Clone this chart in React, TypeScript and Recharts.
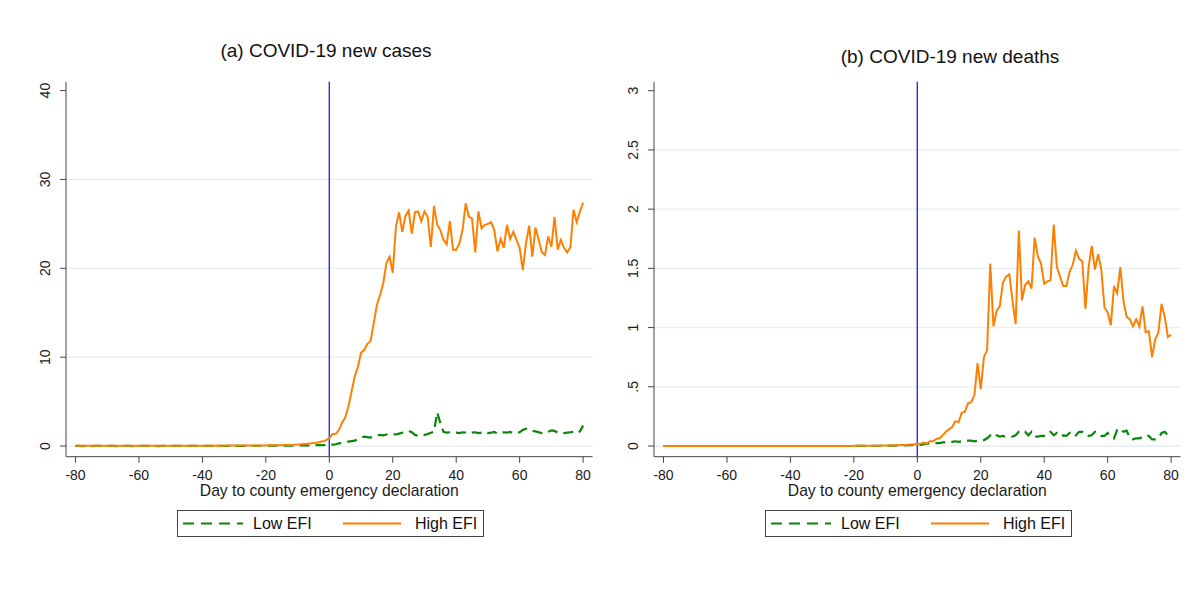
import React from 'react';
import { LineChart, Line, XAxis, YAxis, ReferenceLine } from 'recharts';

// day relative to county emergency declaration
const days = Array.from({ length: 161 }, (_, i) => i - 80);

const casesLow = [
  0.01, 0.01, 0.0, 0.01, 0.01, 0.0, 0.01, 0.01, 0.01, 0.0,
  0.01, 0.01, 0.01, 0.0, 0.01, 0.01, 0.01, 0.01, 0.0, 0.01,
  0.01, 0.01, 0.01, 0.01, 0.01, 0.01, 0.0, 0.01, 0.01, 0.01,
  0.01, 0.01, 0.01, 0.01, 0.02, 0.01, 0.01, 0.02, 0.01, 0.02,
  0.02, 0.01, 0.02, 0.02, 0.02, 0.02, 0.02, 0.02, 0.02, 0.02,
  0.02, 0.02, 0.02, 0.03, 0.02, 0.03, 0.03, 0.03, 0.03, 0.03,
  0.03, 0.03, 0.04, 0.04, 0.04, 0.04, 0.05, 0.05, 0.05, 0.05,
  0.06, 0.06, 0.07, 0.07, 0.08, 0.09, 0.1, 0.1, 0.11, 0.12,
  0.1, 0.15, 0.2, 0.3, 0.35, 0.45, 0.5, 0.55, 0.6, 0.75,
  0.95, 1.05, 1.0, 0.95, 1.05, 1.2, 1.25, 1.2, 1.3, 1.35,
  1.35, 1.3, 1.4, 1.5, 1.6, 1.7, 1.55, 1.25, 1.15, 1.2,
  1.25, 1.35, 1.5, 1.6, 3.8, 2.6, 1.6, 1.5, 1.55, 1.5,
  1.5, 1.45, 1.55, 1.5, 1.45, 1.5, 1.55, 1.45, 1.5, 1.6,
  1.45, 1.5, 1.6, 1.4, 1.45, 1.55, 1.5, 1.6, 1.45, 1.5,
  1.55, 1.8, 1.95, 1.85, 1.7, 1.65, 1.55, 1.45, 1.5, 1.6,
  1.75, 1.7, 1.5, 1.4, 1.45, 1.5, 1.55, 1.6, 1.45, 1.65,
  2.3,
];

const casesHigh = [
  0.02, 0.02, 0.02, 0.03, 0.02, 0.02, 0.03, 0.02, 0.02, 0.03,
  0.02, 0.03, 0.02, 0.02, 0.03, 0.02, 0.03, 0.02, 0.03, 0.03,
  0.03, 0.02, 0.03, 0.03, 0.02, 0.03, 0.03, 0.03, 0.02, 0.03,
  0.03, 0.03, 0.03, 0.04, 0.03, 0.03, 0.04, 0.03, 0.04, 0.04,
  0.04, 0.03, 0.04, 0.04, 0.04, 0.05, 0.04, 0.04, 0.05, 0.05,
  0.05, 0.05, 0.05, 0.06, 0.05, 0.06, 0.06, 0.06, 0.07, 0.07,
  0.07, 0.08, 0.08, 0.09, 0.09, 0.1, 0.11, 0.12, 0.13, 0.15,
  0.17, 0.19, 0.22, 0.25, 0.29, 0.33, 0.38, 0.45, 0.53, 0.66,
  0.88, 1.35, 1.35, 1.8, 2.6, 3.2, 4.4, 6.1, 7.8, 8.9,
  10.5, 10.8, 11.5, 11.8, 13.8, 15.9, 17.0, 18.3, 20.6, 21.3,
  19.5, 24.7, 26.3, 24.1, 25.9, 26.5, 23.9, 26.3, 26.4, 25.3,
  26.4, 25.8, 22.4, 27.0, 24.9, 24.3, 23.2, 22.7, 25.3, 22.1,
  22.1, 22.8, 24.3, 27.3, 25.8, 25.6, 21.8, 26.4, 24.5, 24.9,
  25.0, 25.2, 24.3, 21.9, 23.3, 22.3, 24.9, 23.3, 24.1, 23.2,
  22.3, 19.8, 22.8, 24.8, 21.3, 24.6, 23.2, 21.8, 21.5, 23.6,
  22.4, 25.8, 22.1, 23.2, 22.3, 21.8, 22.4, 26.6, 25.2, 26.4,
  27.4,
];

const deathsLow = [
  0.0, 0.0, 0.0, 0.0, 0.0, 0.0, 0.0, 0.0, 0.0, 0.0,
  0.0, 0.0, 0.0, 0.0, 0.0, 0.0, 0.0, 0.0, 0.0, 0.0,
  0.0, 0.0, 0.0, 0.0, 0.0, 0.0, 0.0, 0.0, 0.0, 0.0,
  0.0, 0.0, 0.0, 0.0, 0.0, 0.0, 0.0, 0.0, 0.0, 0.0,
  0.0, 0.0, 0.0, 0.0, 0.0, 0.0, 0.0, 0.0, 0.0, 0.0,
  0.0, 0.0, 0.0, 0.0, 0.0, 0.0, 0.0, 0.0, 0.0, 0.0,
  0.001, 0.001, 0.001, 0.001, 0.001, 0.002, 0.002, 0.002, 0.002, 0.003,
  0.003, 0.003, 0.004, 0.004, 0.005, 0.005, 0.006, 0.007, 0.008, 0.009,
  0.01, 0.01, 0.015, 0.02, 0.02, 0.02, 0.025, 0.025, 0.03, 0.03,
  0.03, 0.035, 0.04, 0.035, 0.04, 0.04, 0.045, 0.045, 0.04, 0.045,
  0.045, 0.05, 0.065, 0.09, 0.11, 0.09, 0.08, 0.085, 0.075, 0.075,
  0.08, 0.09, 0.12, 0.11, 0.12, 0.09, 0.12, 0.08, 0.08, 0.085,
  0.085, 0.09, 0.12, 0.09, 0.11, 0.085, 0.09, 0.085, 0.11, 0.12,
  0.09, 0.12, 0.12, 0.09, 0.085, 0.09, 0.12, 0.11, 0.085, 0.085,
  0.11, 0.09, 0.065, 0.135, 0.15, 0.12, 0.13, 0.065, 0.056, 0.065,
  0.065, 0.075, 0.09, 0.085, 0.056, 0.056, 0.065, 0.11, 0.12, 0.09,
  0.085,
];

const deathsHigh = [
  0.0, 0.0, 0.0, 0.0, 0.0, 0.0, 0.0, 0.0, 0.0, 0.0,
  0.0, 0.0, 0.0, 0.0, 0.0, 0.0, 0.0, 0.0, 0.0, 0.0,
  0.0, 0.0, 0.0, 0.0, 0.0, 0.0, 0.0, 0.0, 0.0, 0.0,
  0.0, 0.0, 0.0, 0.0, 0.0, 0.0, 0.0, 0.0, 0.0, 0.0,
  0.0, 0.0, 0.0, 0.0, 0.0, 0.0, 0.0, 0.0, 0.0, 0.0,
  0.001, 0.001, 0.001, 0.001, 0.001, 0.001, 0.001, 0.001, 0.001, 0.001,
  0.002, 0.002, 0.002, 0.002, 0.002, 0.003, 0.003, 0.003, 0.003, 0.004,
  0.004, 0.005, 0.005, 0.006, 0.007, 0.008, 0.009, 0.01, 0.012, 0.014,
  0.017, 0.02, 0.03, 0.02, 0.04, 0.04, 0.06, 0.065, 0.09, 0.12,
  0.14, 0.16, 0.21, 0.2, 0.28, 0.29, 0.36, 0.37, 0.43, 0.7,
  0.48, 0.75, 0.81, 1.54, 1.01, 1.14, 1.18, 1.38, 1.43, 1.45,
  1.23, 1.03, 1.82, 1.23, 1.36, 1.39, 1.33, 1.76, 1.6, 1.54,
  1.37, 1.39, 1.4, 1.87, 1.51, 1.43, 1.35, 1.35, 1.47, 1.53,
  1.65, 1.58, 1.56, 1.16, 1.51, 1.69, 1.49, 1.62, 1.49, 1.17,
  1.13, 1.02, 1.35, 1.29, 1.51, 1.22, 1.09, 1.07, 1.01, 1.07,
  1.01, 1.18, 0.96, 0.97, 0.75, 0.9, 0.96, 1.2, 1.09, 0.92,
  0.94,
];

const xTicks = [-80, -60, -40, -20, 0, 20, 40, 60, 80];
const casesTicks = [0, 10, 20, 30, 40];
const casesGrid = [0, 10, 20, 30];
const deathsTicks = [0, 0.5, 1, 1.5, 2, 2.5, 3];
const deathsGrid = [0, 0.5, 1, 1.5, 2, 2.5];

const FONT = '"Liberation Sans", Arial, sans-serif';
const ORANGE = '#ff8000';
const GREEN = '#0a870a';
const AXIS = '#444';

const casesData = days.map((d, i) => ({ day: d, low: casesLow[i], high: casesHigh[i] }));
const deathsData = days.map((d, i) => ({ day: d, low: deathsLow[i], high: deathsHigh[i] }));

// stata style vertical tick labels
const VerticalTick = (props: any) => {
  const { x, y, payload, fmt } = props;
  const ax = x - 7.5;
  return (
    <text
      x={ax}
      y={y}
      transform={`rotate(-90 ${ax} ${y})`}
      textAnchor="middle"
      fontSize={14}
      fontFamily={FONT}
      fill="#1a1a1a"
    >
      {fmt(payload.value)}
    </text>
  );
};

const fmtStata = (v: number) => (v > 0 && v < 1 ? String(v).replace(/^0/, '') : String(v));

interface PanelProps {
  left: number;
  title: string;
  titleX: number;
  titleY: number;
  data: { day: number; low: number; high: number }[];
  yDomain: [number, number];
  yTicks: number[];
  gridValues: number[];
}

function Panel({ left, title, titleX, titleY, data, yDomain, yTicks, gridValues }: PanelProps) {
  return (
    <>
      <div
        style={{
          position: 'absolute',
          left: titleX - 150,
          top: titleY - 12,
          width: 300,
          textAlign: 'center',
          fontFamily: FONT,
          fontSize: 19,
          lineHeight: '24px',
          color: '#111',
        }}
      >
        {title}
      </div>
      <div style={{ position: 'absolute', left, top: 0 }}>
        <LineChart
          width={600}
          height={612}
          data={data}
          margin={{ top: 81.7, right: 7.4, bottom: 110.3, left: 0 }}
        >
          {gridValues.map((g) => (
            <ReferenceLine key={g} y={g} stroke="#e6eef1" strokeWidth={1.3} />
          ))}
          <XAxis
            dataKey="day"
            type="number"
            domain={[-83, 83]}
            ticks={xTicks}
            height={45}
            tickSize={6}
            tickMargin={7}
            stroke={AXIS}
            tick={{ fill: '#1a1a1a', fontSize: 14, fontFamily: FONT }}
            label={{
              content: (p: any) => {
                const vb = p.viewBox;
                return (
                  <text
                    x={vb.x + vb.width / 2}
                    y={vb.y + 39}
                    textAnchor="middle"
                    fontSize={15.7}
                    fontFamily={FONT}
                    fill="#1a1a1a"
                  >
                    Day to county emergency declaration
                  </text>
                );
              },
            }}
          />
          <YAxis
            type="number"
            domain={yDomain}
            ticks={yTicks}
            allowDataOverflow
            width={66}
            tickSize={6}
            tickMargin={2}
            stroke={AXIS}
            tick={(p: any) => <VerticalTick {...p} fmt={fmtStata} />}
          />
          <ReferenceLine x={0} stroke="#2b2bff" strokeWidth={1.4} />
          <Line
            type="linear"
            dataKey="low"
            stroke={GREEN}
            strokeWidth={2.2}
            strokeDasharray="10 6"
            dot={false}
            isAnimationActive={false}
          />
          <Line
            type="linear"
            dataKey="high"
            stroke={ORANGE}
            strokeWidth={2}
            dot={false}
            isAnimationActive={false}
          />
        </LineChart>
      </div>
      <div
        style={{
          position: 'absolute',
          left: left + 177,
          top: 510,
          width: 305,
          height: 25,
          border: '1px solid #444',
          fontFamily: FONT,
          fontSize: 16,
          color: '#111',
        }}
      >
        <svg width={60} height={25} style={{ position: 'absolute', left: 5, top: 0 }}>
          <line x1={0} y1={12.5} x2={60} y2={12.5} stroke={GREEN} strokeWidth={2.2} strokeDasharray="11 7" />
        </svg>
        <span style={{ position: 'absolute', left: 75, top: 3, lineHeight: '19px' }}>Low EFI</span>
        <svg width={60} height={25} style={{ position: 'absolute', left: 165, top: 0 }}>
          <line x1={0} y1={12.5} x2={58} y2={12.5} stroke={ORANGE} strokeWidth={2.2} />
        </svg>
        <span style={{ position: 'absolute', left: 237, top: 3, lineHeight: '19px' }}>High EFI</span>
      </div>
    </>
  );
}

export default function App() {
  return (
    <div
      style={{
        position: 'absolute',
        left: 0,
        top: 0,
        width: 1203,
        height: 612,
        background: '#fff',
        overflow: 'hidden',
      }}
    >
      <Panel
        left={0}
        title="(a) COVID-19 new cases"
        titleX={326}
        titleY={51}
        data={casesData}
        yDomain={[-1.2, 41]}
        yTicks={casesTicks}
        gridValues={casesGrid}
      />
      <Panel
        left={588}
        title="(b) COVID-19 new deaths"
        titleX={950}
        titleY={57}
        data={deathsData}
        yDomain={[-0.0903, 3.076]}
        yTicks={deathsTicks}
        gridValues={deathsGrid}
      />
    </div>
  );
}
